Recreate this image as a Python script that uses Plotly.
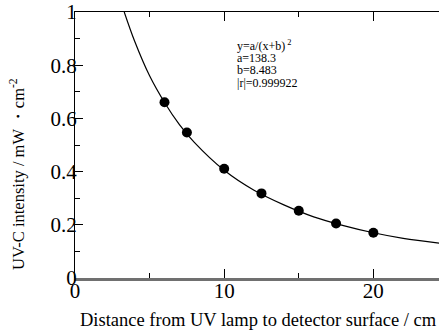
import plotly.graph_objects as go

# Measured data points
distance_cm = [6, 7.5, 10, 12.5, 15, 17.5, 20]
intensity = [0.661, 0.547, 0.411, 0.318, 0.253, 0.205, 0.170]

# Fitted curve
curve_x = [3.3, 4, 5, 6, 7, 8, 10, 12, 14, 16, 18, 20, 22, 24.4]
curve_y = [1.0, 0.89, 0.76, 0.66, 0.577, 0.51, 0.405, 0.33, 0.275, 0.23, 0.197, 0.17, 0.149, 0.131]

x_ticks = [0, 10, 20]
y_ticks = [0, 0.2, 0.4, 0.6, 0.8, 1]
y_tick_labels = ["0", "0.2", "0.4", "0.6", "0.8", "1"]

fit_lines = ["y=a/(x+b)<sup> 2</sup>", "a=138.3", "b=8.483", "|r|=0.999922"]
x_title = "Distance from UV lamp to detector surface / cm"
y_title = "UV-C intensity / mW ・cm<sup>-2</sup>"

FONT = "Liberation Serif, serif"

# plot-area geometry in pixels (for placing free text)
L, R, T, B = 75, 0, 12, 54
W, H = 439, 332
PW, PH = W - L - R, H - T - B


def px_to_paper(px, py):
    return (px - L) / PW, (H - B - py) / PH


fig = go.Figure()
fig.add_trace(go.Scatter(x=curve_x, y=curve_y, mode="lines",
                         line=dict(color="black", width=1.2, shape="spline"),
                         hoverinfo="skip", showlegend=False))
fig.add_trace(go.Scatter(x=distance_cm, y=intensity, mode="markers",
                         marker=dict(color="black", size=10),
                         showlegend=False))

annotations = []
for i, line in enumerate(fit_lines):
    ax_, ay_ = px_to_paper(235, 45.5 + 12.4 * i)
    annotations.append(dict(text=line, xref="paper", yref="paper", x=ax_, y=ay_,
                            xanchor="left", yanchor="middle", showarrow=False,
                            font=dict(size=12, family=FONT, color="black")))
tx, ty = px_to_paper(258, 320)
annotations.append(dict(text=x_title, xref="paper", yref="paper", x=tx, y=ty,
                        xanchor="center", yanchor="middle", showarrow=False,
                        font=dict(size=18.5, family=FONT, color="black")))
yx, yy = px_to_paper(17, 174)
annotations.append(dict(text=y_title, xref="paper", yref="paper", x=yx, y=yy,
                        xanchor="center", yanchor="middle", showarrow=False,
                        textangle=-90,
                        font=dict(size=16.5, family=FONT, color="black")))

fig.update_layout(
    width=W, height=H,
    margin=dict(l=L, r=R, t=T, b=B),
    paper_bgcolor="white", plot_bgcolor="white",
    font=dict(family=FONT, color="black"),
    xaxis=dict(
        range=[0, 24.4], tickvals=x_ticks, ticks="inside", ticklen=9,
        tickcolor="black", showgrid=False, zeroline=False,
        showline=True, linecolor="#707070", linewidth=2.5,
        tickfont=dict(size=21, family=FONT, color="black"),
        ticklabelstandoff=-8,
        minor=dict(dtick=5, ticks="inside", ticklen=5, tickcolor="black", showgrid=False),
    ),
    xaxis2=dict(
        range=[0, 24.4], overlaying="x", matches="x", side="top",
        tickvals=x_ticks, ticks="inside", ticklen=9, tickcolor="black",
        showticklabels=False, showgrid=False, zeroline=False,
        showline=True, linecolor="black", linewidth=1.2,
        minor=dict(dtick=5, ticks="inside", ticklen=5, tickcolor="black", showgrid=False),
    ),
    yaxis=dict(
        range=[0, 1], tickvals=y_ticks, ticktext=y_tick_labels,
        ticks="inside", ticklen=8, tickcolor="black",
        showgrid=False, zeroline=False,
        showline=True, linecolor="black", linewidth=1.2,
        tickfont=dict(size=21, family=FONT, color="black"),
        ticklabelstandoff=-7,
        minor=dict(dtick=0.1, ticks="inside", ticklen=5, tickcolor="black", showgrid=False),
    ),
    annotations=annotations,
)
# invisible trace to anchor the top axis
fig.add_trace(go.Scatter(x=[0], y=[0], xaxis="x2", mode="markers",
                         marker=dict(opacity=0), hoverinfo="skip", showlegend=False))

fig.write_html("out.html")
